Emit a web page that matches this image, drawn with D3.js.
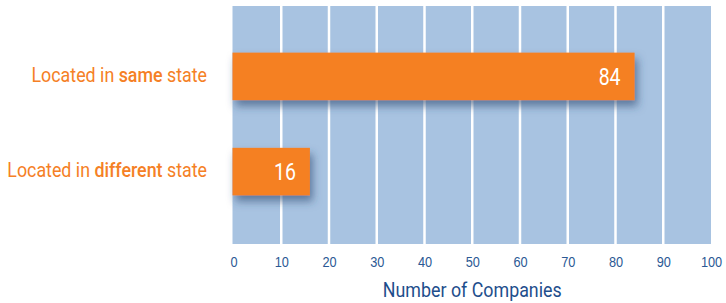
<!DOCTYPE html>
<html>
<head>
<meta charset="utf-8">
<script src="https://cdn.jsdelivr.net/npm/d3@7"></script>
<style>
  body { margin: 0; background: #fff; }
  svg { display: block; font-family: "Roboto", "Liberation Sans", sans-serif; }
  .cat { fill: #f58025; font-size: 21px; }
  .cat .em { font-weight: 500; }
  .val { fill: #fff; font-size: 23px; }
  .tick text { fill: #2b5994; font-size: 15px; }
  .x.label { fill: #1e4e8c; font-size: 21px; }
</style>
</head>
<body>
<div id="chart"></div>
<script>
// data
var categories = ["same", "different"];
var catPre = ["Located in ", "Located in "];
var catWord = ["same", "different"];
var catPost = [" state", " state"];
var values = [84, 16];
var tickValues = [0, 10, 20, 30, 40, 50, 60, 70, 80, 90, 100];

var width = 726, height = 303;
var margin = { top: 6, right: 15, bottom: 59, left: 233.5 },
    w = width - margin.left - margin.right,
    h = height - margin.top - margin.bottom;

// the original uses a condensed face, squeeze the text horizontally
var squeeze = 0.85;

var xScale = d3.scaleLinear().domain([0, 100]).range([0, w]),
    yScale = d3.scaleBand().domain(categories).range([-1, h - 1]).paddingInner(0.5).paddingOuter(0.5);

var svg = d3.select("#chart").append("svg")
    .attr("width", width)
    .attr("height", height);

var defs = svg.append("defs");
var filter = defs.append("filter")
    .attr("id", "shadow")
    .attr("x", "-20%").attr("y", "-40%")
    .attr("width", "140%").attr("height", "200%");
filter.append("feDropShadow")
    .attr("dx", 3)
    .attr("dy", 6)
    .attr("stdDeviation", 4.5)
    .attr("flood-color", "#2c4a70")
    .attr("flood-opacity", 0.6);

var g = svg.append("g")
    .attr("transform", "translate(" + margin.left + "," + margin.top + ")");

// background
g.append("rect")
    .attr("x", -1)
    .attr("y", 0)
    .attr("width", w + 1)
    .attr("height", h)
    .attr("fill", "#a8c3e1");

// gridlines
g.selectAll(".grid")
    .data(tickValues.slice(1, -1))
    .enter()
    .append("line")
    .attr("class", "grid")
    .attr("x1", function(d) { return xScale(d); })
    .attr("x2", function(d) { return xScale(d); })
    .attr("y1", 0)
    .attr("y2", h)
    .attr("stroke", "#fff")
    .attr("stroke-width", 2.5);

// bars
g.selectAll(".bar")
    .data(values)
    .enter()
    .append("rect")
    .attr("class", "bar")
    .attr("x", xScale(0) - 1)
    .attr("y", function(d, i) { return yScale(categories[i]); })
    .attr("width", function(d) { return xScale(d) - xScale(0) + 1; })
    .attr("height", yScale.bandwidth())
    .attr("fill", "#f58020")
    .attr("filter", "url(#shadow)");

// value labels
g.selectAll(".val")
    .data(values)
    .enter()
    .append("text")
    .attr("class", "val")
    .attr("text-anchor", "end")
    .attr("transform", function(d, i) {
        return "translate(" + (xScale(d) - 14) + "," + (yScale(categories[i]) + yScale.bandwidth() / 2) + ") scale(" + squeeze + ",1)"; })
    .attr("dy", "0.36em")
    .text(function(d) { return d; });

// category labels
var cat = svg.selectAll(".cat")
    .data(categories)
    .enter()
    .append("text")
    .attr("class", "cat")
    .attr("text-anchor", "end")
    .attr("transform", function(d) {
        return "translate(207," + (margin.top + yScale(d) + yScale.bandwidth() / 2) + ") scale(" + squeeze + ",1)"; })
    .attr("dy", "0.25em");
cat.append("tspan").text(function(d, i) { return catPre[i]; });
cat.append("tspan").attr("class", "em").text(function(d, i) { return catWord[i]; });
cat.append("tspan").text(function(d, i) { return catPost[i]; });

// x axis
var xAxis = d3.axisBottom(xScale).tickValues(tickValues).tickSize(0).tickPadding(12);
var ax = g.append("g")
    .attr("class", "x axis")
    .attr("transform", "translate(0," + h + ")")
    .call(xAxis);
ax.select(".domain").remove();
ax.selectAll("text")
    .attr("font-family", null)
    .attr("font-size", null)
    .attr("transform", "scale(" + squeeze + ",1)");

g.append("text")
    .attr("class", "x label")
    .attr("text-anchor", "middle")
    .attr("transform", "translate(" + (w / 2) + "," + (h + 53) + ") scale(" + squeeze + ",1)")
    .text("Number of Companies");
</script>
</body>
</html>
